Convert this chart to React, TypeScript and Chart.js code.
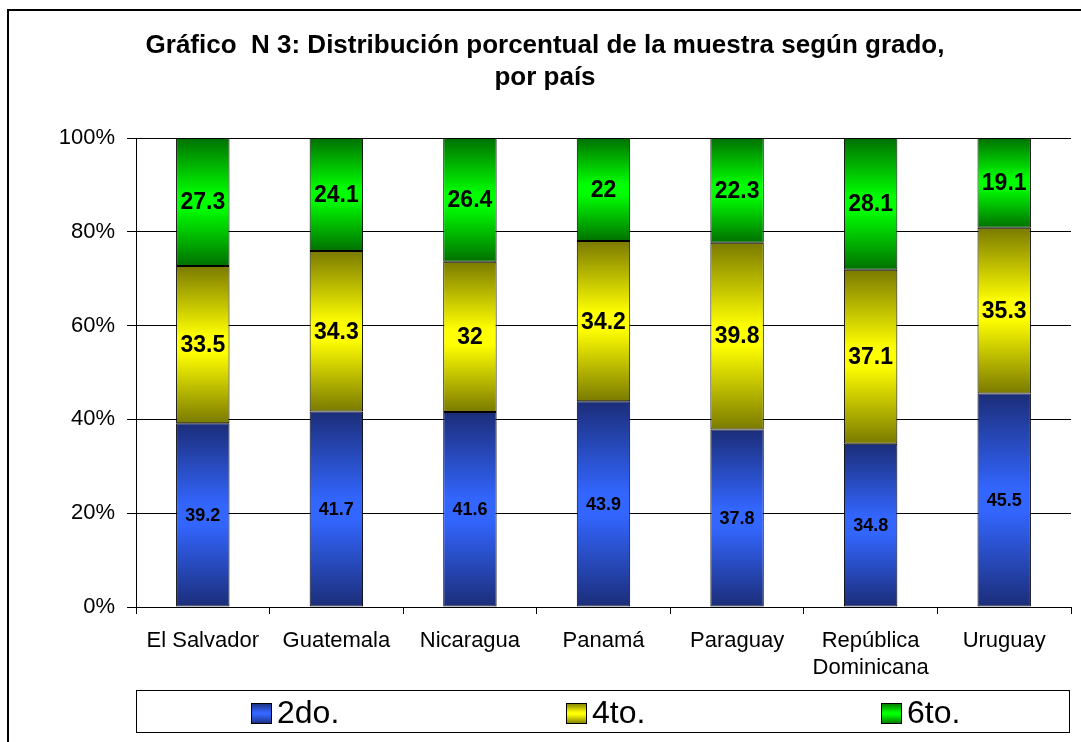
import React, { useEffect, useRef } from "react";
import { Chart, registerables } from "chart.js";

Chart.register(...registerables);

const countries: (string | string[])[] = [
  "El Salvador",
  "Guatemala",
  "Nicaragua",
  "Panamá",
  "Paraguay",
  ["República", "Dominicana"],
  "Uruguay",
];
const grade2 = [39.2, 41.7, 41.6, 43.9, 37.8, 34.8, 45.5];
const grade4 = [33.5, 34.3, 32, 34.2, 39.8, 37.1, 35.3];
const grade6 = [27.3, 24.1, 26.4, 22, 22.3, 28.1, 19.1];
const seriesLabels = ["2do.", "4to.", "6to."];
const titleLines = [
  "Gráfico  N 3: Distribución porcentual de la muestra según grado,",
  "por país",
];
const yTicks = [0, 20, 40, 60, 80, 100];

const FONT = "'Liberation Sans', Arial, Helvetica, sans-serif";
const rawSeries = [grade2, grade4, grade6];
const totals = grade2.map((v, i) => v + grade4[i] + grade6[i]);
const normSeries = rawSeries.map((s) => s.map((v, i) => (v / totals[i]) * 100));

const palettes = [
  { edge: "#1b2d78", mid: "#3366ff", solid: "#3366ff" },
  { edge: "#7a7a00", mid: "#ffff00", solid: "#ffff00" },
  { edge: "#007000", mid: "#00ff00", solid: "#00ff00" },
];

function makeGrad(ctx: CanvasRenderingContext2D, top: number, bottom: number, p: any) {
  const g = ctx.createLinearGradient(0, top, 0, bottom);
  g.addColorStop(0, p.edge);
  g.addColorStop(0.45, p.mid);
  g.addColorStop(0.55, p.mid);
  g.addColorStop(1, p.edge);
  return g;
}

const decorPlugin = {
  id: "decor",
  beforeDraw(chart: any) {
    const ctx = chart.ctx as CanvasRenderingContext2D;
    ctx.save();
    ctx.fillStyle = "#ffffff";
    ctx.fillRect(0, 0, chart.width, chart.height);
    // outer frame
    ctx.fillStyle = "#000000";
    ctx.fillRect(7, 9, chart.width - 7, 2);
    ctx.fillRect(7, 9, 2, chart.height - 9);
    // title
    ctx.font = `bold 26px ${FONT}`;
    ctx.textAlign = "center";
    ctx.textBaseline = "middle";
    ctx.fillText(titleLines[0], 545, 46);
    ctx.fillText(titleLines[1], 545, 78);
    ctx.restore();
  },
  afterDraw(chart: any) {
    const ctx = chart.ctx as CanvasRenderingContext2D;
    ctx.save();
    // legend box
    const bx = 136, by = 690, bw = 933, bh = 42;
    ctx.strokeStyle = "#000000";
    ctx.lineWidth = 1;
    ctx.strokeRect(bx + 0.5, by + 0.5, bw, bh);
    const colW = bw / 3;
    chart.data.datasets.forEach((ds: any, i: number) => {
      const sx = bx + 115 + i * (colW + 4);
      const sy = 703;
      ctx.fillStyle = makeGrad(ctx, sy, sy + 21, palettes[i]);
      ctx.fillRect(sx, sy, 21, 21);
      ctx.strokeStyle = "#000";
      ctx.strokeRect(sx + 0.5, sy + 0.5, 20, 20);
      ctx.fillStyle = "#000";
      ctx.font = `32px ${FONT}`;
      ctx.textAlign = "left";
      ctx.textBaseline = "middle";
      ctx.fillText(ds.label, sx + 26, sy + 11);
    });
    ctx.restore();
  },
  afterDatasetsDraw(chart: any) {
    const ctx = chart.ctx as CanvasRenderingContext2D;
    ctx.save();
    ctx.fillStyle = "#000";
    ctx.textAlign = "center";
    ctx.textBaseline = "middle";
    chart.data.datasets.forEach((ds: any, di: number) => {
      const meta = chart.getDatasetMeta(di);
      ctx.font = di === 0 ? `bold 18px ${FONT}` : `bold 23px ${FONT}`;
      meta.data.forEach((el: any, i: number) => {
        const y = (el.y + el.base) / 2;
        ctx.fillText(String(rawSeries[di][i]), el.x, y + 1);
      });
    });
    ctx.restore();
  },
};

export default function App() {
  const ref = useRef<HTMLCanvasElement | null>(null);
  useEffect(() => {
    if (!ref.current) return;
    const bg = (di: number) => (c: any) => {
      const chart = c.chart;
      const ys = chart.scales?.y;
      if (c.type !== "data" || !ys) return palettes[di].solid;
      let start = 0;
      for (let k = 0; k < di; k++) start += normSeries[k][c.dataIndex];
      const end = start + normSeries[di][c.dataIndex];
      const top = ys.getPixelForValue(end);
      const bottom = ys.getPixelForValue(start);
      if (!isFinite(top) || !isFinite(bottom)) return palettes[di].solid;
      return makeGrad(chart.ctx, top, bottom, palettes[di]);
    };
    const chart = new Chart(ref.current, {
      type: "bar",
      data: {
        labels: countries,
        datasets: normSeries.map((s, di) => ({
          label: seriesLabels[di],
          data: s,
          backgroundColor: bg(di),
          borderColor: "#000000",
          borderWidth: 1,
          borderSkipped: false,
          barPercentage: 0.4,
          categoryPercentage: 1,
        })),
      },
      plugins: [decorPlugin],
      options: {
        responsive: false,
        animation: false,
        events: [],
        layout: { padding: { top: 138, left: 0, right: 10, bottom: 50 } },
        plugins: {
          legend: { display: false },
          title: { display: false },
          tooltip: { enabled: false },
        },
        scales: {
          x: {
            stacked: true,
            afterFit: (s: any) => {
              s.height = 85;
            },
            grid: {
              offset: true,
              drawOnChartArea: false,
              color: "#000",
              tickLength: 7,
            },
            border: { display: true, color: "#000", width: 1 },
            ticks: {
              color: "#000",
              font: { family: FONT, size: 22 },
              padding: 14,
              maxRotation: 0,
              autoSkip: false,
            },
          },
          y: {
            stacked: true,
            min: 0,
            max: 100,
            afterFit: (s: any) => {
              s.width = 136;
            },
            afterBuildTicks: (s: any) => {
              s.ticks = yTicks.map((v) => ({ value: v }));
            },
            grid: { color: "#000", tickLength: 9, lineWidth: 1 },
            border: { display: true, color: "#000", width: 1 },
            ticks: {
              color: "#000",
              font: { family: FONT, size: 22 },
              padding: 12,
              callback: (v: any) => `${v}%`,
            },
          },
        },
      },
    });
    return () => chart.destroy();
  }, []);
  return (
    <div style={{ position: "absolute", left: 0, top: 0, width: 1081, height: 742, background: "#fff" }}>
      <canvas ref={ref} width={1081} height={742} style={{ display: "block" }} />
    </div>
  );
}
